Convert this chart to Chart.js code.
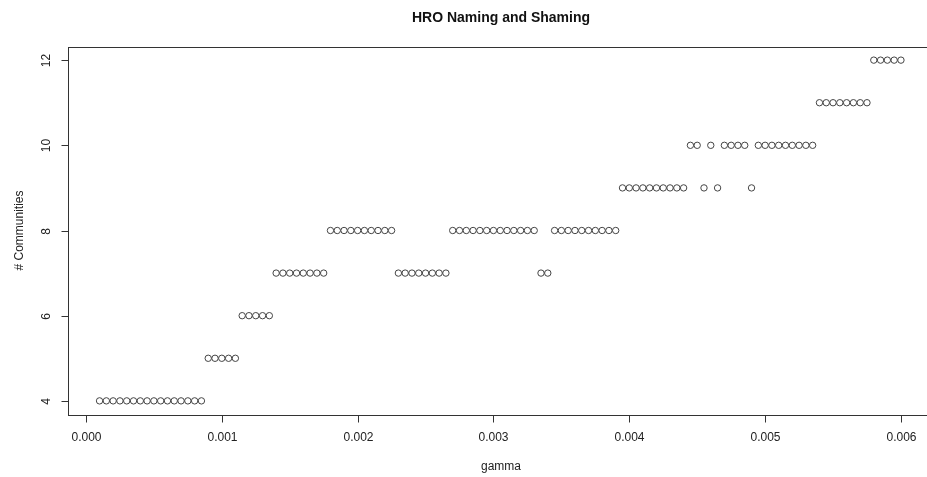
<!DOCTYPE html>
<html>
<head>
<meta charset="utf-8">
<script src="https://cdn.jsdelivr.net/npm/chart.js@4"></script>
<style>
  html, body { margin: 0; padding: 0; background: #fff; overflow: hidden; }
  #wrap { width: 945px; height: 477px; }
</style>
</head>
<body>
<div id="wrap"><canvas id="plot" width="945" height="477"></canvas></div>
<script>
// gamma values (x) and number of communities found (y)
const gamma = [
  0.00010, 0.00015, 0.00020, 0.00025, 0.00030, 0.00035, 0.00040, 0.00045, 0.00050, 0.00055,
  0.00060, 0.00065, 0.00070, 0.00075, 0.00080, 0.00085, 0.00090, 0.00095, 0.00100, 0.00105,
  0.00110, 0.00115, 0.00120, 0.00125, 0.00130, 0.00135, 0.00140, 0.00145, 0.00150, 0.00155,
  0.00160, 0.00165, 0.00170, 0.00175, 0.00180, 0.00185, 0.00190, 0.00195, 0.00200, 0.00205,
  0.00210, 0.00215, 0.00220, 0.00225, 0.00230, 0.00235, 0.00240, 0.00245, 0.00250, 0.00255,
  0.00260, 0.00265, 0.00270, 0.00275, 0.00280, 0.00285, 0.00290, 0.00295, 0.00300, 0.00305,
  0.00310, 0.00315, 0.00320, 0.00325, 0.00330, 0.00335, 0.00340, 0.00345, 0.00350, 0.00355,
  0.00360, 0.00365, 0.00370, 0.00375, 0.00380, 0.00385, 0.00390, 0.00395, 0.00400, 0.00405,
  0.00410, 0.00415, 0.00420, 0.00425, 0.00430, 0.00435, 0.00440, 0.00445, 0.00450, 0.00455,
  0.00460, 0.00465, 0.00470, 0.00475, 0.00480, 0.00485, 0.00490, 0.00495, 0.00500, 0.00505,
  0.00510, 0.00515, 0.00520, 0.00525, 0.00530, 0.00535, 0.00540, 0.00545, 0.00550, 0.00555,
  0.00560, 0.00565, 0.00570, 0.00575, 0.00580, 0.00585, 0.00590, 0.00595, 0.00600
];
const communities = [
  4, 4, 4, 4, 4, 4, 4, 4, 4, 4,
  4, 4, 4, 4, 4, 4, 5, 5, 5, 5,
  5, 6, 6, 6, 6, 6, 7, 7, 7, 7,
  7, 7, 7, 7, 8, 8, 8, 8, 8, 8,
  8, 8, 8, 8, 7, 7, 7, 7, 7, 7,
  7, 7, 8, 8, 8, 8, 8, 8, 8, 8,
  8, 8, 8, 8, 8, 7, 7, 8, 8, 8,
  8, 8, 8, 8, 8, 8, 8, 9, 9, 9,
  9, 9, 9, 9, 9, 9, 9, 10, 10, 9,
  10, 9, 10, 10, 10, 10, 9, 10, 10, 10,
  10, 10, 10, 10, 10, 10, 11, 11, 11, 11,
  11, 11, 11, 11, 12, 12, 12, 12, 12
];
const xTickValues = [0, 0.001, 0.002, 0.003, 0.004, 0.005, 0.006];
const xTickLabels = ['0.000', '0.001', '0.002', '0.003', '0.004', '0.005', '0.006'];
const yTickValues = [4, 6, 8, 10, 12];
const yTickLabels = ['4', '6', '8', '10', '12'];

const FONT = '"Liberation Sans", Arial, Helvetica, sans-serif';
const INK = '#333';

// R style frame, ticks and labels, placed with the chart's own scales
const rAxes = {
  id: 'rAxes',
  afterDraw(chart) {
    const c = chart.ctx;
    const a = chart.chartArea;
    const xs = chart.scales.x;
    const ys = chart.scales.y;
    c.save();
    c.strokeStyle = INK;
    c.lineWidth = 1;
    c.strokeRect(Math.round(a.left) + 0.5, Math.round(a.top) + 0.5,
                 Math.round(a.right - a.left), Math.round(a.bottom - a.top));

    c.fillStyle = '#222';
    c.font = '12px ' + FONT;

    // x axis
    const by = Math.round(a.bottom) + 0.5;
    c.beginPath();
    c.moveTo(Math.round(xs.getPixelForValue(xTickValues[0])) + 0.5, by);
    c.lineTo(Math.round(xs.getPixelForValue(xTickValues[xTickValues.length - 1])) + 0.5, by);
    c.textAlign = 'center';
    c.textBaseline = 'middle';
    xTickValues.forEach((v, i) => {
      const px = Math.round(xs.getPixelForValue(v)) + 0.5;
      c.moveTo(px, by);
      c.lineTo(px, by + 7);
      c.fillText(xTickLabels[i], px, by + 22.5);
    });
    c.stroke();

    // y axis
    const lx = Math.round(a.left) + 0.5;
    c.beginPath();
    c.moveTo(lx, Math.round(ys.getPixelForValue(yTickValues[0])) + 0.5);
    c.lineTo(lx, Math.round(ys.getPixelForValue(yTickValues[yTickValues.length - 1])) + 0.5);
    yTickValues.forEach((v, i) => {
      const py = Math.round(ys.getPixelForValue(v)) + 0.5;
      c.moveTo(lx, py);
      c.lineTo(lx - 7, py);
      c.save();
      c.translate(lx - 22, py);
      c.rotate(-Math.PI / 2);
      c.fillText(yTickLabels[i], 0, 0);
      c.restore();
    });
    c.stroke();

    // titles
    c.font = 'bold 14px ' + FONT;
    c.fillStyle = '#111';
    c.fillText('HRO Naming and Shaming', 501, 18);
    c.font = '12px ' + FONT;
    c.fillStyle = '#222';
    c.fillText('gamma', 501, 467);
    c.save();
    c.translate(20, (a.top + a.bottom) / 2);
    c.rotate(-Math.PI / 2);
    c.fillText('# Communities', 0, 0);
    c.restore();
    c.restore();
  }
};

const points = gamma.map((g, i) => ({ x: g, y: communities[i] }));

new Chart(document.getElementById('plot').getContext('2d'), {
  type: 'scatter',
  data: {
    datasets: [{
      label: 'communities',
      data: points,
      pointStyle: 'circle',
      pointRadius: 3.2,
      pointBorderWidth: 1,
      borderColor: '#444',
      backgroundColor: 'rgba(0,0,0,0)'
    }]
  },
  options: {
    responsive: false,
    animation: false,
    layout: { padding: { left: 67.5, right: 12, top: 46.5, bottom: 62.5 } },
    scales: {
      x: { type: 'linear', display: false, min: -0.000136, max: 0.006236 },
      y: { type: 'linear', display: false, min: 3.68, max: 12.32 }
    },
    plugins: {
      legend: { display: false },
      tooltip: { enabled: false }
    }
  },
  plugins: [rAxes]
});
</script>
</body>
</html>
